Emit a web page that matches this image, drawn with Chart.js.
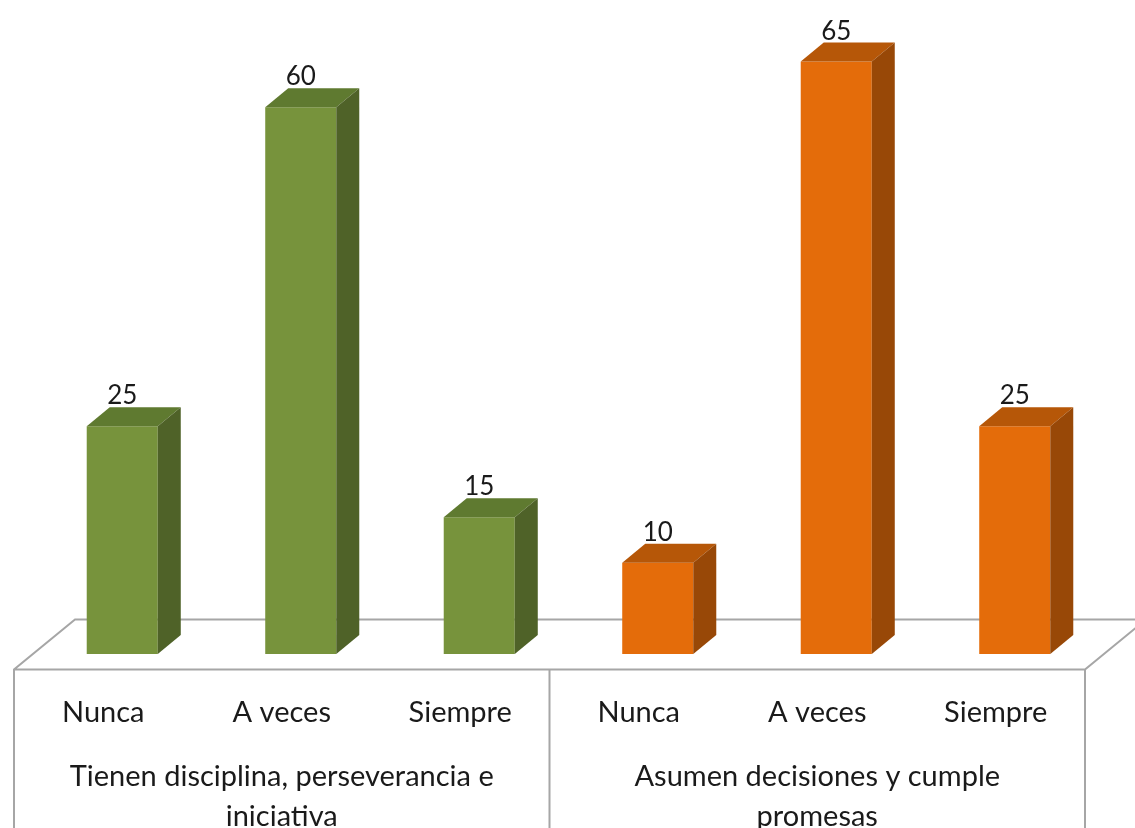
<!DOCTYPE html>
<html>
<head>
<meta charset="utf-8">
<script src="https://cdn.jsdelivr.net/npm/chart.js@4/dist/chart.umd.min.js"></script>
<style>
  html, body { margin: 0; padding: 0; background: #fff; }
  #wrap { width: 1135px; height: 828px; position: relative; }
</style>
</head>
<body>
<div id="wrap"><canvas id="chart"></canvas></div>
<script>
// Answers per item, two groups of three
const categories = ['Nunca', 'A veces', 'Siempre', 'Nunca', 'A veces', 'Siempre']
const values = [25, 60, 15, 10, 65, 25]
const groupLabels = [
  ['Tienen disciplina, perseverancia e', 'iniciativa'],
  ['Asumen decisiones y cumple', 'promesas'],
]
const groupOf = [0, 0, 0, 1, 1, 1]

// front / top / side shades per group
const FRONT = ['#77933c', '#e46c0a']
const TOP = ['#5f7a30', '#b65708']
const SIDE = ['#4f6228', '#984807']

const NUM_FONT = "26px Lato, 'Liberation Sans', sans-serif"
const LABEL_FONT = "29px Lato, 'Liberation Sans', sans-serif"
const BAR_DX = 23, BAR_DY = 19      // bar depth
const FLOOR_DX = 61, FLOOR_DY = 50  // floor depth
const LINE = '#a6a6a6'

function poly(ctx, pts, fill) {
  ctx.beginPath()
  ctx.moveTo(pts[0][0], pts[0][1])
  for (let i = 1; i < pts.length; i++) ctx.lineTo(pts[i][0], pts[i][1])
  ctx.closePath()
  ctx.fillStyle = fill
  ctx.fill()
}

const bar3d = {
  id: 'bar3d',
  beforeDatasetsDraw(chart) {
    const { ctx, scales: { x, y } } = chart
    const shiftX = (FLOOR_DX - BAR_DX) / 2
    const shiftY = (FLOOR_DY - BAR_DY) / 2
    const fl = x.left - shiftX
    const fr = x.right - shiftX
    const fy = y.getPixelForValue(0) + shiftY
    const bottom = chart.height + 5
    ctx.save()
    ctx.strokeStyle = LINE
    ctx.lineWidth = 2
    ctx.beginPath()
    // floor outline
    ctx.moveTo(fl, bottom)
    ctx.lineTo(fl, fy)
    ctx.lineTo(fl + FLOOR_DX, fy - FLOOR_DY)
    ctx.lineTo(fr + FLOOR_DX, fy - FLOOR_DY)
    ctx.moveTo(fl, fy)
    ctx.lineTo(fr, fy)
    ctx.lineTo(fr + FLOOR_DX, fy - FLOOR_DY)
    ctx.moveTo(fr, fy)
    ctx.lineTo(fr, bottom)
    // group divider
    const mid = (fl + fr) / 2
    ctx.moveTo(mid, fy)
    ctx.lineTo(mid, bottom)
    ctx.stroke()
    ctx.restore()
  },
  afterDatasetsDraw(chart) {
    const { ctx, scales: { x, y } } = chart
    const meta = chart.getDatasetMeta(0)
    ctx.save()
    meta.data.forEach((bar, i) => {
      const g = groupOf[i]
      const l = bar.x - bar.width / 2
      const r = bar.x + bar.width / 2
      const t = bar.y
      const b = bar.base
      poly(ctx, [[l, t], [l + BAR_DX, t - BAR_DY], [r + BAR_DX, t - BAR_DY], [r, t]], TOP[g])
      poly(ctx, [[r, t], [r + BAR_DX, t - BAR_DY], [r + BAR_DX, b - BAR_DY], [r, b]], SIDE[g])
      ctx.fillStyle = '#1a1a1a'
      ctx.font = NUM_FONT
      ctx.textAlign = 'center'
      ctx.textBaseline = 'alphabetic'
      ctx.fillText(String(values[i]), bar.x, t - 22)
    })

    // category and group labels under the floor
    const shiftX = (FLOOR_DX - BAR_DX) / 2
    const fy = y.getPixelForValue(0) + (FLOOR_DY - BAR_DY) / 2
    ctx.fillStyle = '#1a1a1a'
    ctx.font = LABEL_FONT
    ctx.textBaseline = 'middle'
    categories.forEach((c, i) => {
      ctx.fillText(c, x.getPixelForValue(i) - shiftX, fy + 43)
    })
    groupLabels.forEach((lines, g) => {
      const cx = (x.getPixelForValue(g * 3) + x.getPixelForValue(g * 3 + 2)) / 2 - shiftX
      lines.forEach((txt, k) => ctx.fillText(txt, cx, fy + 107 + k * 40))
    })
    ctx.restore()
  },
}

new Chart(document.getElementById('chart'), {
  type: 'bar',
  data: {
    labels: categories,
    datasets: [{
      data: values,
      backgroundColor: groupOf.map(g => FRONT[g]),
      borderWidth: 0,
      categoryPercentage: 1,
      barPercentage: 0.398,
    }],
  },
  options: {
    responsive: true,
    maintainAspectRatio: false,
    animation: false,
    layout: { padding: { left: 33, right: 31, top: 16, bottom: 174 } },
    plugins: { legend: { display: false }, tooltip: { enabled: false } },
    scales: {
      x: { display: false },
      y: { display: false, min: 0, max: 70 },
    },
  },
  plugins: [bar3d],
})
</script>
</body>
</html>
